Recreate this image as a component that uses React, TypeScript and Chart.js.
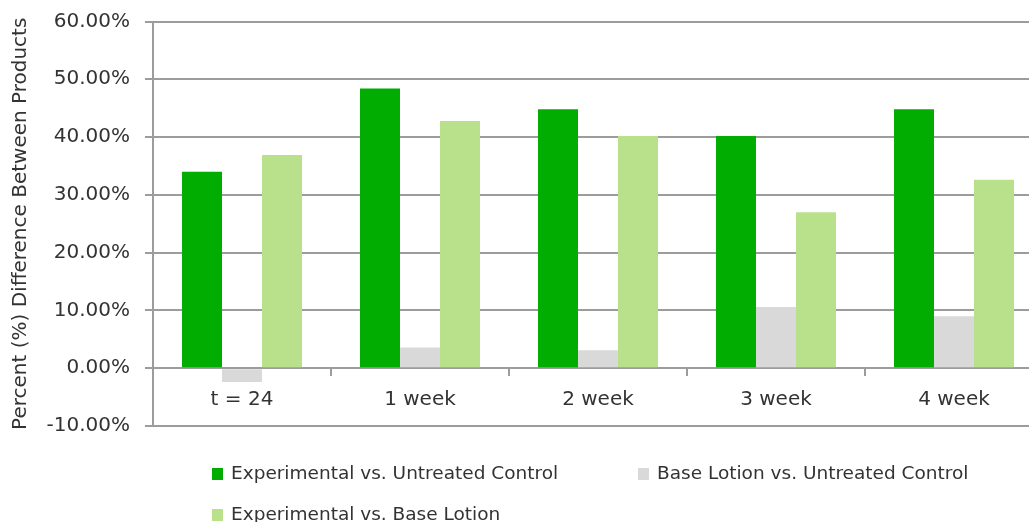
import React, { useEffect, useRef } from "react";
import { Chart, registerables } from "chart.js";

Chart.register(...registerables);

const categories = ["t = 24", "1 week", "2 week", "3 week", "4 week"];
const expVsUntreated = [34.0, 48.4, 44.8, 40.2, 44.8];
const baseVsUntreated = [-2.4, 3.6, 3.1, 10.6, 9.0];
const expVsBase = [36.9, 42.8, 40.2, 27.0, 32.6];
const seriesNames = [
  "Experimental vs. Untreated Control",
  "Base Lotion vs. Untreated Control",
  "Experimental vs. Base Lotion",
];
const seriesColors = ["#00AD00", "#D9D9D9", "#B9E08B"];
const yMin = -10;
const yMax = 60;
const yStep = 10;
const yTitle = "Percent (%) Difference Between Products";

const FONT = "'DejaVu Sans', sans-serif";
const TEXT = "#333333";
const GRID = "#9c9c9c";

// legend item placement (layout only)
const legendSlots = [
  { x: 212, y: 474 },
  { x: 638, y: 474 },
  { x: 212, y: 515 },
];

const customLegend = {
  id: "customLegend",
  afterDraw(chart: any) {
    const ctx = chart.ctx;
    ctx.save();
    ctx.font = `18.5px ${FONT}`;
    ctx.textBaseline = "middle";
    ctx.textAlign = "left";
    chart.data.datasets.forEach((ds: any, i: number) => {
      const slot = legendSlots[i];
      if (!slot) return;
      ctx.fillStyle = ds.backgroundColor;
      ctx.fillRect(slot.x, slot.y - 6, 11, 12);
      ctx.fillStyle = TEXT;
      ctx.fillText(ds.label, slot.x + 19, slot.y);
    });
    ctx.restore();
  },
};

export default function App() {
  const ref = useRef<HTMLCanvasElement | null>(null);

  useEffect(() => {
    if (!ref.current) return;
    const chart = new Chart(ref.current, {
      type: "bar",
      data: {
        labels: categories,
        datasets: [expVsUntreated, baseVsUntreated, expVsBase].map((d, i) => ({
          label: seriesNames[i],
          data: d,
          backgroundColor: seriesColors[i],
          borderWidth: 0,
          barPercentage: 1,
          categoryPercentage: 0.674,
        })),
      },
      options: {
        animation: false,
        responsive: false,
        layout: { padding: { top: 21.5, bottom: 96, left: 0, right: 0 } },
        plugins: {
          legend: { display: false },
          tooltip: { enabled: false },
        },
        scales: {
          x: {
            position: { y: 0 } as any,
            offset: true,
            grid: {
              display: true,
              drawOnChartArea: false,
              drawTicks: true,
              tickLength: 7,
              color: GRID,
              lineWidth: 2,
              offset: true,
            },
            border: { display: true, color: GRID, width: 2 },
            ticks: {
              font: { family: FONT, size: 20 },
              color: TEXT,
              padding: 13,
              maxRotation: 0,
            },
          },
          y: {
            min: yMin,
            max: yMax,
            afterFit(scale: any) {
              scale.width = 153;
              scale.paddingTop = 0;
              scale.paddingBottom = 0;
            },
            ticks: {
              stepSize: yStep,
              font: { family: FONT, size: 20 },
              color: TEXT,
              padding: 15,
              callback: (v: any) => Number(v).toFixed(2) + "%",
            },
            grid: {
              color: GRID,
              lineWidth: 2,
              tickLength: 8,
              drawTicks: true,
            },
            border: { display: true, color: GRID, width: 2 },
            title: {
              display: true,
              text: yTitle,
              font: { family: FONT, size: 20 },
              color: TEXT,
              padding: { top: 9, bottom: 0 },
            },
          },
        },
      },
      plugins: [customLegend],
    });
    return () => chart.destroy();
  }, []);

  return (
    <div
      style={{
        position: "fixed",
        left: 0,
        top: 0,
        width: 1029,
        height: 522,
        overflow: "hidden",
        background: "#ffffff",
      }}
    >
      <canvas ref={ref} width={1043} height={522} style={{ display: "block" }} />
    </div>
  );
}
